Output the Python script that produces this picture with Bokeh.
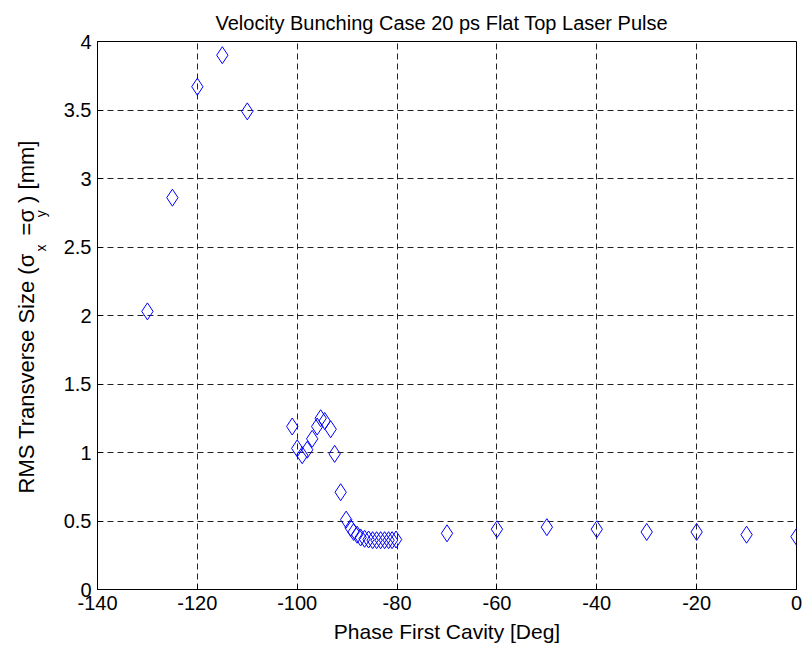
from bokeh.plotting import figure
from bokeh.models import Range1d, FixedTicker, Title, ColumnDataSource
from bokeh.embed import file_html
from bokeh.resources import INLINE

# ---- data ----
phase_deg = [-130, -125, -120, -115, -110,
             -101, -100, -99, -98, -97, -96, -95.3, -94.5, -93.3, -92.5, -91.3, -90.2,
             -89.3, -88.7, -88.0, -87.3, -86.5, -85.7, -84.9, -84.1, -83.3, -82.5, -81.7, -81.0, -80.2,
             -70, -60, -50, -40, -30, -20, -10, 0]
rms_size_mm = [2.03, 2.86, 3.67, 3.90, 3.49,
               1.19, 1.03, 0.98, 1.02, 1.10, 1.19, 1.25, 1.23, 1.17, 0.99, 0.71, 0.51,
               0.45, 0.42, 0.40, 0.38, 0.37, 0.365, 0.36, 0.36, 0.36, 0.36, 0.36, 0.36, 0.365,
               0.41, 0.44, 0.455, 0.44, 0.42, 0.42, 0.40, 0.385]

x_ticks = [-140, -120, -100, -80, -60, -40, -20, 0]
x_tick_labels = ["-140", "-120", "-100", "-80", "-60", "-40", "-20", "0"]
y_ticks = [0, 0.5, 1, 1.5, 2, 2.5, 3, 3.5, 4]
y_tick_labels = ["0", "0.5", "1", "1.5", "2", "2.5", "3", "3.5", "4"]

title_text = "Velocity Bunching Case 20 ps Flat Top Laser Pulse"
x_label = "Phase First Cavity [Deg]"
NB = "\u00a0"
y_label_main = "RMS Transverse Size (σ" + NB * 3 + "=σ" + NB * 1 + ") [mm]"
y_label_subs = "x" + NB * 7 + "y"

FONT = "Liberation Sans"
FS = "20px"

p = figure(width=812, height=647, output_backend="svg", toolbar_location=None,
           x_range=Range1d(-140, 0), y_range=Range1d(0, 4),
           title=title_text,
           min_border_left=97, min_border_right=16, min_border_top=41, min_border_bottom=58)
p.title.align = "left"
p.title.offset = 118
p.title.vertical_align = "top"
p.title.text_font = FONT
p.title.text_font_size = FS
p.title.text_font_style = "normal"
p.title.text_color = "black"
p.title.standoff = 12
p.background_fill_color = "white"
p.border_fill_color = "white"
p.outline_line_color = "black"
p.outline_line_width = 1

for ax in (p.xaxis[0], p.yaxis[0]):
    ax.major_tick_in = 5
    ax.major_tick_out = 0
    ax.minor_tick_line_color = None
    ax.axis_line_color = "black"
    ax.major_tick_line_color = "black"
    ax.major_label_text_font = FONT
    ax.major_label_text_font_size = FS
    ax.major_label_text_color = "black"
    ax.major_label_text_font_style = "normal"

p.xaxis[0].ticker = FixedTicker(ticks=x_ticks)
p.yaxis[0].ticker = FixedTicker(ticks=y_ticks)
p.xaxis[0].major_label_overrides = {float(t): s for t, s in zip(x_ticks, x_tick_labels)}
p.yaxis[0].major_label_overrides = {float(t): s for t, s in zip(y_ticks, y_tick_labels)}
p.xaxis[0].major_label_standoff = 6
p.yaxis[0].major_label_standoff = 6
p.xaxis[0].axis_label = x_label
p.xaxis[0].axis_label_text_font = FONT
p.xaxis[0].axis_label_text_font_size = "21px"
p.xaxis[0].axis_label_text_font_style = "normal"
p.xaxis[0].axis_label_text_color = "black"
p.xaxis[0].axis_label_standoff = 7

for g in (p.xgrid[0], p.ygrid[0]):
    g.grid_line_color = "#222222"
    g.grid_line_dash = "6 4"
    g.grid_line_width = 1
p.xgrid[0].ticker = FixedTicker(ticks=x_ticks)
p.ygrid[0].ticker = FixedTicker(ticks=y_ticks)

src = ColumnDataSource(dict(x=phase_deg, y=rms_size_mm))
p.scatter("x", "y", source=src, marker="diamond", size=17,
          fill_color=None, line_color="#0000ff", line_width=1)

# y axis label as two vertical titles: subscripts column and main text column
sub_title = Title(text=y_label_subs, align="left", offset=338, vertical_align="bottom",
                  text_font=FONT, text_font_size="14px", text_font_style="normal",
                  text_color="black", standoff=23)
main_title = Title(text=y_label_main, align="left", offset=96, vertical_align="bottom",
                   text_font=FONT, text_font_size="22px", text_font_style="normal",
                   text_color="black", standoff=-38)
p.add_layout(sub_title, "left")
p.add_layout(main_title, "left")

open("out.html", "w").write(file_html(p, INLINE))
